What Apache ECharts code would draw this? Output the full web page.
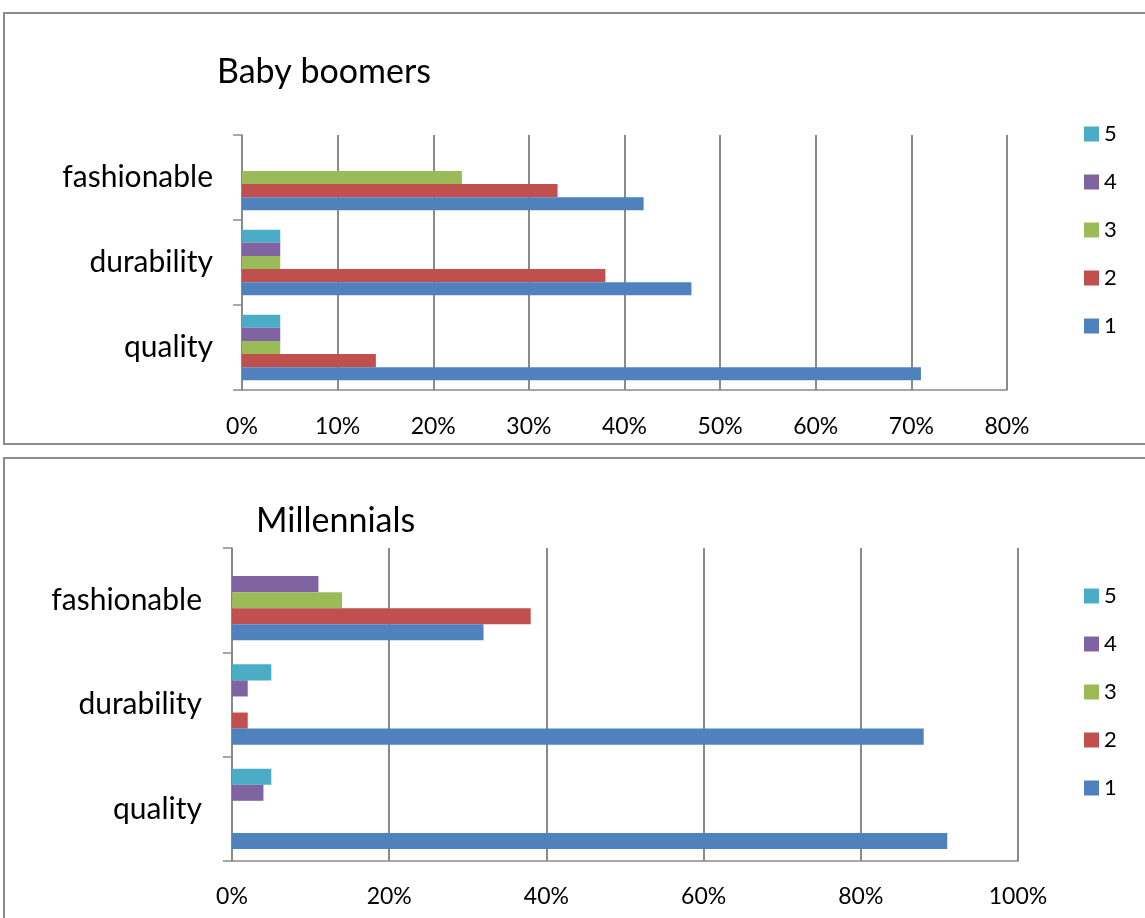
<!DOCTYPE html>
<html>
<head>
<meta charset="utf-8">
<script src="https://cdn.jsdelivr.net/npm/echarts@6/dist/echarts.min.js"></script>
<style>
html,body{margin:0;padding:0;background:#fff;}
#c{width:1145px;height:918px;}
</style>
</head>
<body>
<div id="c"></div>
<script>
const categories = ['quality', 'durability', 'fashionable'];
const seriesNames = ['1', '2', '3', '4', '5'];
const colors = ['#4F81BD', '#C0504D', '#9BBB59', '#8064A2', '#4BACC6'];

// Baby boomers (percent), per rating, per category [quality, durability, fashionable]
const boomers1 = [71, 47, 42];
const boomers2 = [14, 38, 33];
const boomers3 = [4, 4, 23];
const boomers4 = [4, 4, 0];
const boomers5 = [4, 4, 0];

// Millennials (percent)
const millennials1 = [91, 88, 32];
const millennials2 = [0, 2, 38];
const millennials3 = [0, 0, 14];
const millennials4 = [4, 2, 11];
const millennials5 = [5, 5, 0];

const boomersTicks = { min: 0, max: 80, interval: 10 };
const millennialsTicks = { min: 0, max: 100, interval: 20 };

const FONT = 'Lato, "Open Sans", sans-serif';
const GRIDC = '#8a8a8a';

const boomers = [boomers1, boomers2, boomers3, boomers4, boomers5];
const millennials = [millennials1, millennials2, millennials3, millennials4, millennials5];

function mkX(idx, ticks, margin) {
  return {
    gridIndex: idx, type: 'value', min: ticks.min, max: ticks.max, interval: ticks.interval,
    axisLine: { show: true, lineStyle: { color: GRIDC, width: 1.5 } },
    axisTick: { show: false },
    splitLine: { show: true, lineStyle: { color: GRIDC, width: 2 } },
    axisLabel: { formatter: '{value}%', fontFamily: FONT, fontSize: 23, color: '#000', margin: margin }
  };
}
function mkY(idx, margin) {
  return {
    gridIndex: idx, type: 'category', data: categories,
    axisLine: { show: true, lineStyle: { color: GRIDC, width: 1.5 } },
    axisTick: { show: true, length: 9, lineStyle: { color: GRIDC, width: 1.5 } },
    splitLine: { show: false },
    axisLabel: { fontFamily: FONT, fontSize: 30, color: '#000', margin: margin }
  };
}

// ECharts places the first series of a horizontal bar group at the top,
// so add them in reverse order to put rating "1" at the bottom.
const series = [];
for (let i = seriesNames.length - 1; i >= 0; i--) {
  series.push({ name: seriesNames[i], type: 'bar', xAxisIndex: 0, yAxisIndex: 0, data: boomers[i],
    itemStyle: { color: colors[i] }, barGap: '0%', barCategoryGap: '23%' });
}
for (let i = seriesNames.length - 1; i >= 0; i--) {
  series.push({ name: seriesNames[i], type: 'bar', xAxisIndex: 1, yAxisIndex: 1, data: millennials[i],
    itemStyle: { color: colors[i] }, barGap: '0%', barCategoryGap: '23%' });
}

const legendData = seriesNames.slice().reverse();
const chart = echarts.init(document.getElementById('c'), null, { renderer: 'canvas' });
chart.setOption({
  animation: false,
  backgroundColor: '#fff',
  title: [
    { text: 'Baby boomers', left: 212, top: 50, textStyle: { fontFamily: FONT, fontSize: 34, fontWeight: 'normal', color: '#000' } },
    { text: 'Millennials', left: 251, top: 499, textStyle: { fontFamily: FONT, fontSize: 34, fontWeight: 'normal', color: '#000' } }
  ],
  legend: [
    { orient: 'vertical', left: 1079, top: 118, data: legendData, icon: 'rect', itemWidth: 15, itemHeight: 15, itemGap: 26,
      textStyle: { fontFamily: FONT, fontSize: 22, color: '#000' }, selectedMode: false },
    { orient: 'vertical', left: 1079, top: 580, data: legendData, icon: 'rect', itemWidth: 15, itemHeight: 15, itemGap: 26,
      textStyle: { fontFamily: FONT, fontSize: 22, color: '#000' }, selectedMode: false }
  ],
  grid: [
    { left: 242, width: 765, top: 135, height: 255 },
    { left: 232, width: 786, top: 548, height: 313 }
  ],
  xAxis: [mkX(0, boomersTicks, 25), mkX(1, millennialsTicks, 24)],
  yAxis: [mkY(0, 29), mkY(1, 30)],
  series: series,
  graphic: [
    { type: 'rect', shape: { x: 4, y: 13, width: 1150, height: 431 }, style: { fill: 'none', stroke: '#8c8c8c', lineWidth: 2 }, z: 100 },
    { type: 'rect', shape: { x: 4, y: 458, width: 1150, height: 480 }, style: { fill: 'none', stroke: '#8c8c8c', lineWidth: 2 }, z: 100 }
  ]
});
</script>
</body>
</html>
